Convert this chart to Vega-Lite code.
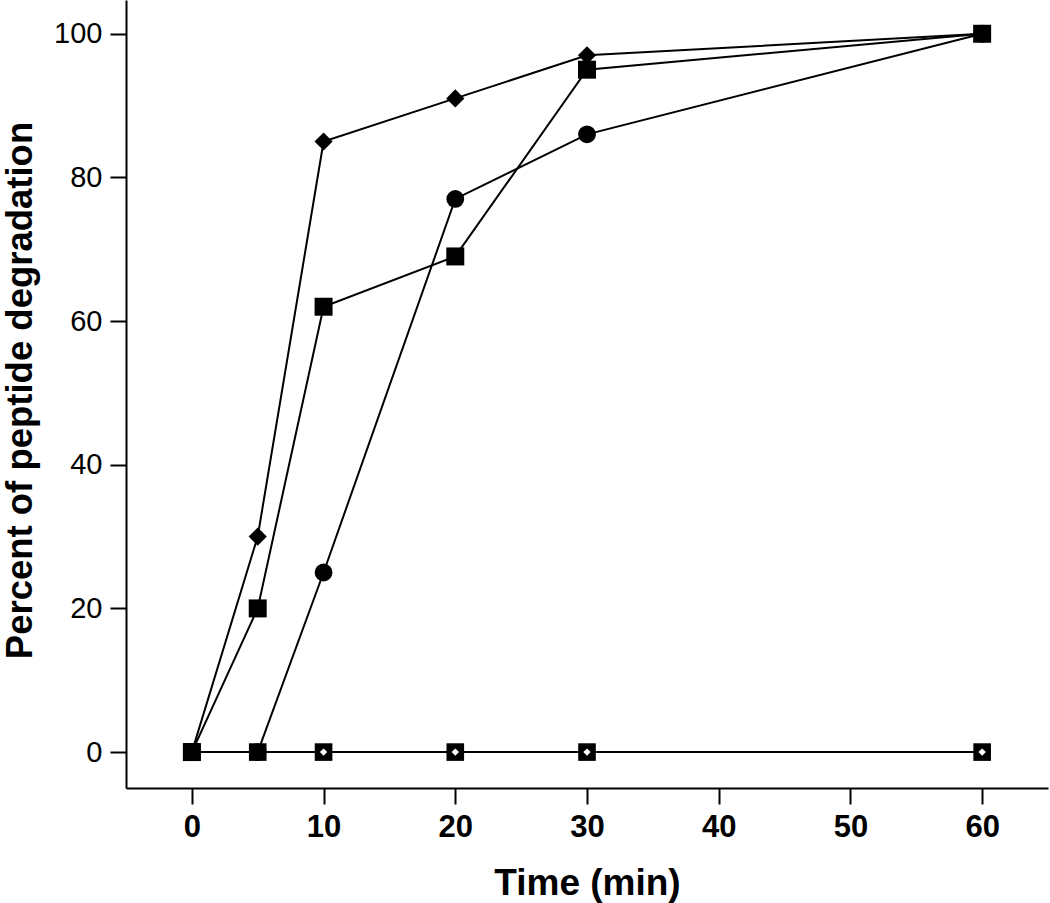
{
  "$schema": "https://vega.github.io/schema/vega-lite/v6.json",
  "width": 922,
  "height": 788,
  "autosize": {"type": "none"},
  "padding": {"left": 126, "top": 0, "right": 2, "bottom": 115},
  "background": "white",
  "config": {
    "view": {"stroke": null},
    "font": "Liberation Sans",
    "axis": {"grid": false, "domainColor": "black", "domainWidth": 2, "tickColor": "black", "tickWidth": 2, "labelColor": "black", "titleColor": "black"}
  },
  "data": {
    "values": [
      {"t": 0, "v": 0, "s": "A"}, {"t": 5, "v": 30, "s": "A"}, {"t": 10, "v": 85, "s": "A"}, {"t": 20, "v": 91, "s": "A"}, {"t": 30, "v": 97, "s": "A"}, {"t": 60, "v": 100, "s": "A"},
      {"t": 0, "v": 0, "s": "B"}, {"t": 5, "v": 20, "s": "B"}, {"t": 10, "v": 62, "s": "B"}, {"t": 20, "v": 69, "s": "B"}, {"t": 30, "v": 95, "s": "B"}, {"t": 60, "v": 100, "s": "B"},
      {"t": 5, "v": 0, "s": "C"}, {"t": 10, "v": 25, "s": "C"}, {"t": 20, "v": 77, "s": "C"}, {"t": 30, "v": 86, "s": "C"}, {"t": 60, "v": 100, "s": "C"},
      {"t": 0, "v": 0, "s": "D"}, {"t": 5, "v": 0, "s": "D"}, {"t": 10, "v": 0, "s": "D"}, {"t": 20, "v": 0, "s": "D"}, {"t": 30, "v": 0, "s": "D"}, {"t": 60, "v": 0, "s": "D"}
    ]
  },
  "encoding": {
    "x": {"field": "t", "type": "quantitative",
      "scale": {"domain": [-5, 65], "nice": false, "zero": false},
      "axis": {"values": [0, 10, 20, 30, 40, 50, 60], "title": "Time (min)", "titleFontSize": 37, "titleFontWeight": "bold", "titleBaseline": "middle", "titleY": 95, "labelFontSize": 31, "labelFontWeight": "bold", "tickSize": 16, "labelPadding": 8}},
    "y": {"field": "v", "type": "quantitative",
      "scale": {"domain": [-5, 104.7], "nice": false, "zero": false},
      "axis": {"values": [0, 20, 40, 60, 80, 100], "title": "Percent of peptide degradation", "titleFontSize": 36.5, "titleFontWeight": "bold", "titleBaseline": "middle", "titleAlign": "center", "titleAngle": -90, "titleX": -106, "titleY": 390, "labelFontSize": 29, "labelFontWeight": "normal", "tickSize": 16, "labelPadding": 8}}
  },
  "layer": [
    {"mark": {"type": "line", "color": "black", "strokeWidth": 2}, "encoding": {"detail": {"field": "s"}}},
    {"mark": {"type": "point", "filled": true, "opacity": 1, "color": "black"},
      "encoding": {
        "shape": {"field": "s", "type": "nominal", "scale": {"domain": ["A", "B", "C", "D"], "range": ["diamond", "square", "circle", "square"]}, "legend": null},
        "size": {"field": "s", "type": "nominal", "scale": {"domain": ["A", "B", "C", "D"], "range": [330, 310, 250, 290]}, "legend": null}
      }},
    {"transform": [{"filter": "datum.s == 'D' && datum.t >= 10"}],
      "mark": {"type": "point", "filled": true, "opacity": 1, "color": "white", "shape": "diamond", "size": 55}}
  ]
}
